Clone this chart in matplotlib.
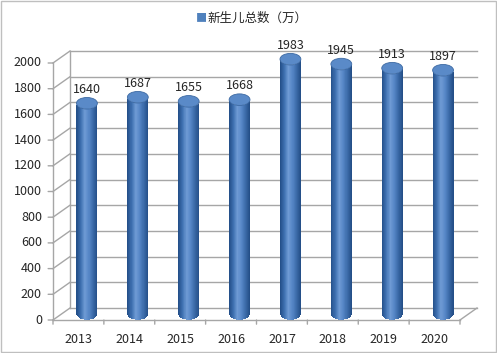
import numpy as np
import matplotlib
matplotlib.use("Agg")
import matplotlib.pyplot as plt
import matplotlib.transforms as mtransforms
from matplotlib.patches import Ellipse, Rectangle
from matplotlib.colors import LinearSegmentedColormap

plt.rcParams['font.family'] = ['Noto Sans CJK SC', 'DejaVu Sans']

# 数据
years = ['2013', '2014', '2015', '2016', '2017', '2018', '2019', '2020']
births = [1640, 1687, 1655, 1668, 1983, 1945, 1913, 1897]
yticks = [0, 200, 400, 600, 800, 1000, 1200, 1400, 1600, 1800, 2000]
series_name = '新生儿总数（万）'

fig = plt.figure(figsize=(4.97, 3.53), dpi=100)
ax = fig.add_axes([53 / 497, 33 / 353, 407 / 497, 257 / 353])
ax.set_xlim(-0.5, len(years) - 0.5)
ax.set_ylim(0, 2000)
ax.axis('off')

# 3D 深度偏移 (像素)
dx, dy = 17, 12
back = ax.transData + mtransforms.ScaledTranslation(dx / 100, dy / 100, fig.dpi_scale_trans)
mid = ax.transData + mtransforms.ScaledTranslation(dx / 200, dy / 200, fig.dpi_scale_trans)

grid_c = '#a6a6a6'
txt_c = '#262626'
x0, x1 = -0.5, len(years) - 0.5

# 后墙网格线 + 左墙斜线
for t in yticks:
    ax.plot([x0, x1], [t, t], color=grid_c, lw=1.0, transform=back, clip_on=False, zorder=1)
    p0 = ax.transData.transform((x0, t))
    fig.add_artist(plt.Line2D([p0[0] / 497, (p0[0] + dx) / 497], [p0[1] / 353, (p0[1] + dy) / 353],
                              color=grid_c, lw=1.0, zorder=1))
ax.plot([x0, x0], [0, 2000], color=grid_c, lw=1.0, transform=back, clip_on=False, zorder=1)

# 地板
pf = ax.transData.transform((x1, 0))
fig.add_artist(plt.Line2D([pf[0] / 497, (pf[0] + dx) / 497], [pf[1] / 353, (pf[1] + dy) / 353],
                          color=grid_c, lw=1.0))
ax.plot([x0, x1], [0, 0], color=grid_c, lw=1.0, clip_on=False, zorder=1)

# 前轴 + 刻度
ax.plot([x0, x0], [0, 2000], color=grid_c, lw=1.0, clip_on=False, zorder=1)
for t in yticks:
    ax.annotate('', xy=(x0, t), xytext=(-3.5, 0), textcoords='offset points',
                arrowprops=dict(arrowstyle='-', color=grid_c, lw=1.0, shrinkA=0, shrinkB=0))
    ax.annotate(str(t), xy=(x0, t), xytext=(-8, 0), textcoords='offset points',
                ha='right', va='center', fontsize=9, color=txt_c)
for i in range(len(years) + 1):
    ax.annotate('', xy=(x0 + i, 0), xytext=(0, -3), textcoords='offset points',
                arrowprops=dict(arrowstyle='-', color=grid_c, lw=1.0, shrinkA=0, shrinkB=0))
for i, yr in enumerate(years):
    ax.annotate(yr, xy=(i, 0), xytext=(0, -14), textcoords='offset points',
                ha='center', va='center', fontsize=9, color=txt_c)

# 圆柱
cmap = LinearSegmentedColormap.from_list(
    'cyl', ['#24508a', '#3e70b0', '#6f9bd5', '#5686c6', '#3b6aa8', '#244f88'])
bw = 0.41
nstrip = 40
e = 45  # 椭圆半高 (数据单位)
edges = np.linspace(-bw / 2, bw / 2, nstrip + 1)
for i, v in enumerate(births):
    for k in range(nstrip):
        u = (edges[k] + edges[k + 1]) / 2
        r = u / (bw / 2)
        off = e * np.sqrt(max(1 - r * r, 0))
        ax.bar(i + u, v, width=bw / nstrip * 1.1, bottom=-off, color=cmap(k / (nstrip - 1)),
               lw=0, transform=mid, clip_on=False, zorder=3)
    ax.add_patch(Ellipse((i, v), bw, 2 * e, facecolor='#5a8ac8', edgecolor='#3d6aa3', lw=0.6,
                         transform=mid, clip_on=False, zorder=4))
    ax.annotate(str(v), xy=(i, v), xycoords=mid, xytext=(0, 10), textcoords='offset points',
                ha='center', va='center', fontsize=9, color=txt_c, zorder=5)

# 图例
fig.text(0.405, 0.949, '■', color='#4f81bd', fontsize=8, ha='center', va='center')
fig.text(0.418, 0.949, series_name, fontsize=9, ha='left', va='center', color=txt_c)

# 外框
fig.add_artist(Rectangle((0.002, 0.003), 0.996, 0.994, transform=fig.transFigure,
                         fill=False, edgecolor='#bfbfbf', lw=1.0))

fig.savefig('out.png', dpi=100)
